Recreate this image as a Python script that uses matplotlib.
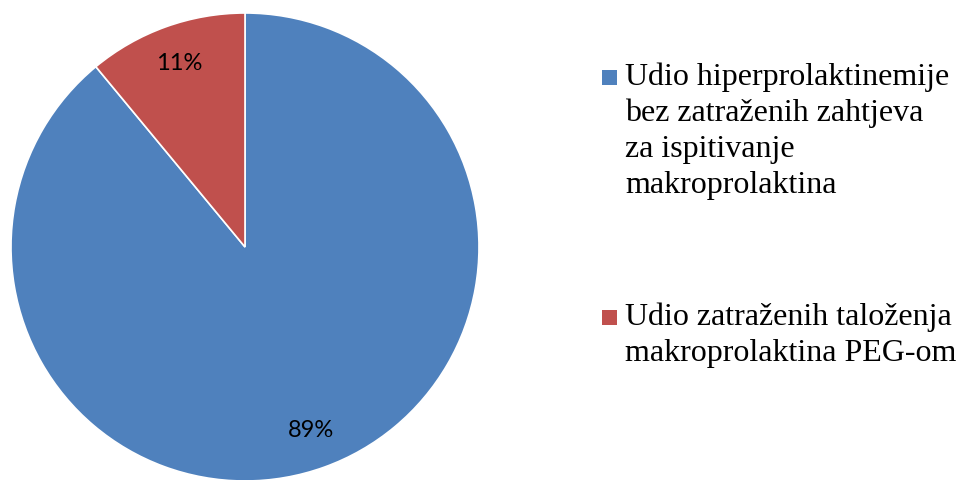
import matplotlib
matplotlib.use("Agg")
import matplotlib.pyplot as plt
from matplotlib.patches import Rectangle

categories = [
    "Udio hiperprolaktinemije\nbez zatraženih zahtjeva\nza ispitivanje\nmakroprolaktina",
    "Udio zatraženih taloženja\nmakroprolaktina PEG-om",
]
values = [89, 11]
colors = ["#4F81BD", "#C0504D"]

W, H = 959, 480
fig = plt.figure(figsize=(W / 100, H / 100), dpi=100)
fig.patch.set_facecolor("white")

cx, cy, r = 245, 233, 234
ax = fig.add_axes([(cx - r) / W, (cy - r) / H, 2 * r / W, 2 * r / H])
wedges, texts, autotexts = ax.pie(
    values, colors=colors, startangle=90, counterclock=False,
    autopct=lambda p: f"{p:.0f}%", pctdistance=0.835, radius=1,
    wedgeprops=dict(edgecolor="white", linewidth=1.2),
    textprops=dict(fontfamily="Lato", fontsize=17, color="black"),
)
ax.set_xlim(-1, 1)
ax.set_ylim(-1, 1)
ax.set_aspect("equal")
ax.axis("off")

# Legend (manual, square aligned with first line)
legend_y = [77.5, 317.5]
for lab, col, yc in zip(categories, colors, legend_y):
    sq = 15
    fig.patches.append(Rectangle((602 / W, (H - yc - sq / 2) / H), sq / W, sq / H,
                                 transform=fig.transFigure, facecolor=col,
                                 edgecolor="none"))
    fig.text(625 / W, (H - yc + 15) / H, lab, ha="left", va="top",
             fontfamily="Liberation Serif", fontsize=23, linespacing=1.31,
             color="black")

fig.savefig("out.png", dpi=100)
